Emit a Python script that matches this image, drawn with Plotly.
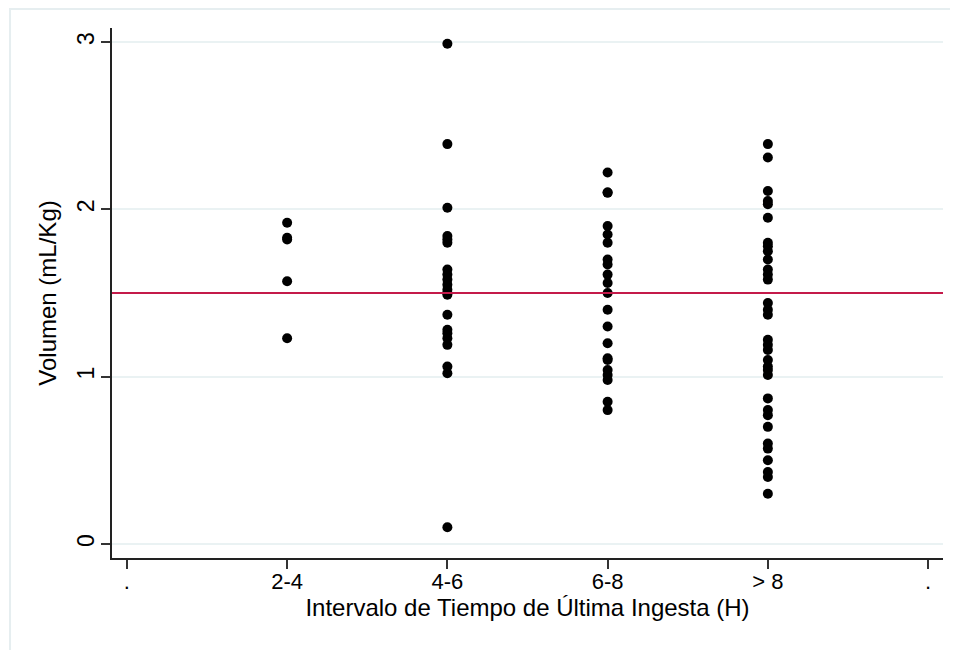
import plotly.graph_objects as go

# ---- data ----
tick_positions = [0, 1, 2, 3, 4, 5]
tick_labels = [".", "2-4", "4-6", "6-8", "> 8", "."]

vol_2_4 = [1.92, 1.83, 1.82, 1.57, 1.23]
vol_4_6 = [2.99, 2.39, 2.01, 1.84, 1.82, 1.80, 1.64, 1.61, 1.58, 1.55, 1.52,
           1.50, 1.49, 1.37, 1.28, 1.26, 1.23, 1.19, 1.06, 1.02, 0.10]
vol_6_8 = [2.22, 2.10, 2.10, 1.90, 1.85, 1.80, 1.70, 1.67, 1.61, 1.56, 1.50,
           1.40, 1.30, 1.20, 1.11, 1.10, 1.04, 1.01, 0.98, 0.85, 0.80]
vol_gt_8 = [2.39, 2.31, 2.11, 2.05, 2.03, 1.95, 1.80, 1.78, 1.75, 1.70, 1.64,
            1.61, 1.58, 1.44, 1.40, 1.37, 1.22, 1.19, 1.16, 1.10, 1.06, 1.04,
            1.01, 0.87, 0.80, 0.77, 0.70, 0.60, 0.57, 0.50, 0.43, 0.40, 0.30]

groups = {"2-4": vol_2_4, "4-6": vol_4_6, "6-8": vol_6_8, "> 8": vol_gt_8}
reference_value = 1.5

y_ticks = [0, 1, 2, 3]

xs, ys = [], []
for label, vals in groups.items():
    pos = tick_positions[tick_labels.index(label)]
    xs += [pos] * len(vals)
    ys += vals

FONT = "Liberation Sans, Arial, Helvetica, sans-serif"

fig = go.Figure()
fig.add_trace(go.Scatter(
    x=xs, y=ys, mode="markers",
    marker=dict(color="black", size=10, line=dict(width=0)),
    showlegend=False, hoverinfo="x+y",
))

fig.update_layout(
    width=950, height=642,
    margin=dict(l=104, r=15, t=20, b=92),
    paper_bgcolor="white", plot_bgcolor="white",
    font=dict(family=FONT, color="black", size=22),
    xaxis=dict(
        range=[-0.093, 5.093],
        tickmode="array", tickvals=tick_positions, ticktext=tick_labels,
        showgrid=False, zeroline=False,
        showline=True, linecolor="#222222", linewidth=1.5,
        ticks="outside", ticklen=9, tickwidth=1.5, tickcolor="#333333",
        tickfont=dict(size=22), ticklabelstandoff=-6,
        title=dict(text="Intervalo de Tiempo de Última Ingesta (H)",
                   font=dict(size=24), standoff=4),
    ),
    yaxis=dict(
        range=[-0.084, 3.084],
        tickmode="array", tickvals=y_ticks,
        tickangle=-90,
        showgrid=True, gridcolor="#eaf2f3", gridwidth=1.5,
        zeroline=False,
        showline=True, linecolor="#222222", linewidth=1.5,
        ticks="outside", ticklen=9, tickwidth=1.5, tickcolor="#333333",
        tickfont=dict(size=23), ticklabelstandoff=-2,
        title=dict(text="Volumen (mL/Kg)", font=dict(size=24), standoff=10),
    ),
    shapes=[
        dict(type="line", xref="paper", yref="y", x0=0, x1=1,
             y0=reference_value, y1=reference_value,
             line=dict(color="#c41a4a", width=2), layer="above"),
        dict(type="rect", xref="paper", yref="paper",
             x0=-0.1227, x1=1.2, y0=-0.4, y1=1.036,
             line=dict(color="#e6eef0", width=2), layer="below"),
    ],
)

fig.write_html("out.html")
